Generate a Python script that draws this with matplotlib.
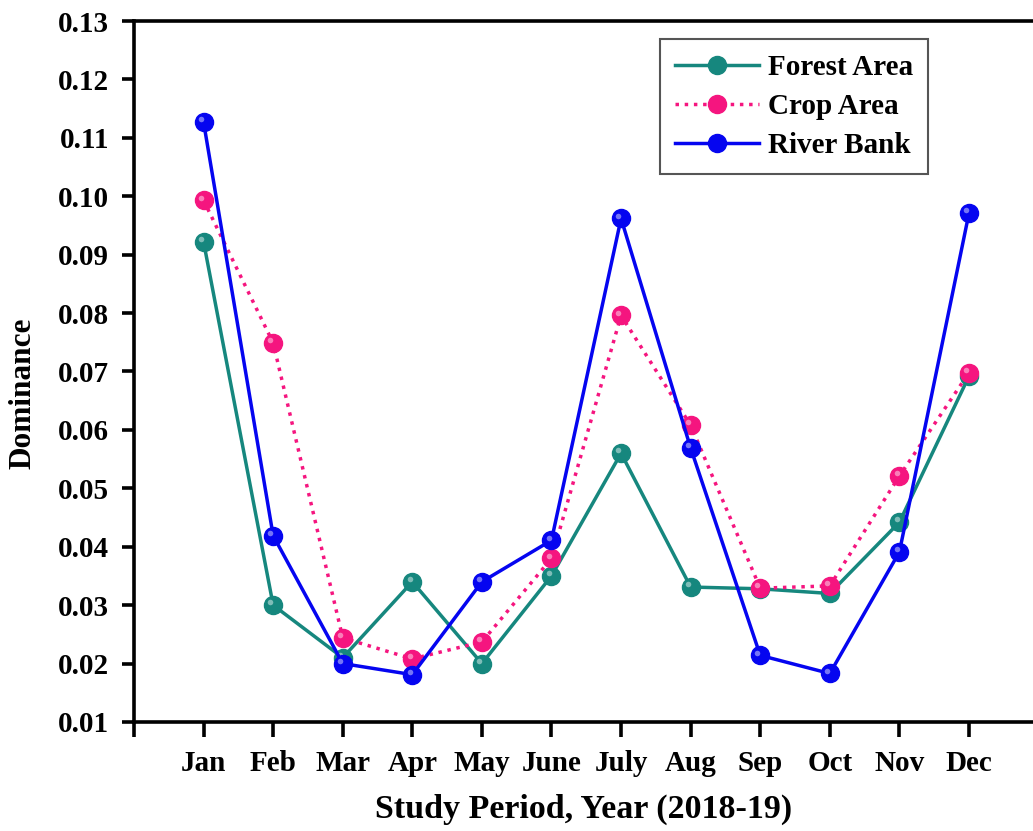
import matplotlib
matplotlib.use('Agg')
import matplotlib.pyplot as plt
import matplotlib.transforms as mtransforms
import numpy as np

months = ['Jan', 'Feb', 'Mar', 'Apr', 'May', 'June', 'July', 'Aug', 'Sep', 'Oct', 'Nov', 'Dec']
forest = [0.0922, 0.0300, 0.0210, 0.0340, 0.0200, 0.0350, 0.0560, 0.0331, 0.0328, 0.0320, 0.0442, 0.0692]
crop = [0.0993, 0.0749, 0.0244, 0.0208, 0.0237, 0.0380, 0.0796, 0.0608, 0.0329, 0.0333, 0.0521, 0.0698]
river = [0.1127, 0.0419, 0.0200, 0.0181, 0.0340, 0.0411, 0.0962, 0.0569, 0.0214, 0.0183, 0.0391, 0.0971]

yticks = np.arange(0.01, 0.1301, 0.01)

plt.rcParams['font.family'] = ['Liberation Serif', 'DejaVu Serif']
plt.rcParams['font.weight'] = 'bold'

fig = plt.figure(figsize=(10.33, 8.31), dpi=100)
ax = fig.add_axes([0.1297, 0.1312, 0.8703, 0.8435])

x = np.arange(1, len(months) + 1)
series = [
    (forest, 'Forest Area', '#16877e', '-'),
    (crop, 'Crop Area', '#f5157f', ':'),
    (river, 'River Bank', '#0505f0', '-'),
]

# small highlight shifted up-left, to look a bit like the shaded spheres
hl = mtransforms.ScaledTranslation(-2 / 72, 2 / 72, fig.dpi_scale_trans)
for vals, name, col, ls in series:
    ax.plot(x, vals, color=col, linestyle=ls, linewidth=2.5, marker='o',
            markersize=13, markerfacecolor=col, markeredgecolor=col, label=name)
    ax.plot(x, vals, linestyle='none', marker='o', markersize=4,
            markerfacecolor='white', markeredgecolor='none', alpha=0.45,
            transform=ax.transData + hl)

ax.set_xlim(0, 12.92)
ax.set_ylim(0.01, 0.13)
ax.set_xticks(np.arange(0, 13))
ax.set_xticklabels([''] + months)
ax.set_yticks(yticks)
ax.set_yticklabels(['%.2f' % v for v in yticks])

for s in ['left', 'bottom', 'top']:
    ax.spines[s].set_linewidth(2.6)
ax.spines['right'].set_visible(False)
ax.tick_params(axis='both', direction='out', width=2.6, labelsize=21)
ax.tick_params(axis='y', length=9, pad=9)
ax.tick_params(axis='x', length=11, pad=9)
for lab in ax.get_xticklabels() + ax.get_yticklabels():
    lab.set_fontweight('bold')

ax.set_ylabel('Dominance', fontsize=22.5, fontweight='bold')
ax.yaxis.set_label_coords(-0.107, 0.469)
ax.set_xlabel('Study Period, Year (2018-19)', fontsize=24.5, fontweight='bold', labelpad=12)

leg = ax.legend(loc='upper right', bbox_to_anchor=(0.883, 0.974), fontsize=21,
                fancybox=False, edgecolor='#555555', framealpha=1,
                handlelength=2.9, handletextpad=0.3, labelspacing=0.42,
                borderpad=0.5, borderaxespad=0)
leg.get_frame().set_linewidth(1.5)
for t in leg.get_texts():
    t.set_fontweight('bold')

fig.savefig('out.png', dpi=100)
